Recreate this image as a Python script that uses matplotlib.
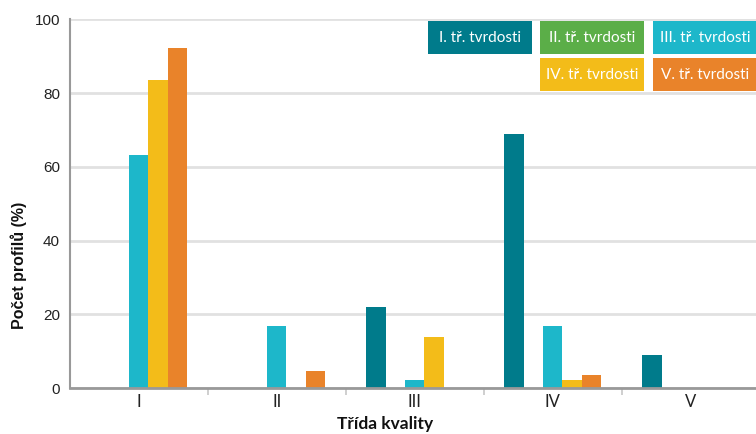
import matplotlib

matplotlib.use("Agg")
import matplotlib.pyplot as plt
import numpy as np
from matplotlib.patches import Rectangle

W, H = 756, 434

categories = ["I", "II", "III", "IV", "V"]
series = ["I. tř. tvrdosti", "II. tř. tvrdosti", "III. tř. tvrdosti", "IV. tř. tvrdosti", "V. tř. tvrdosti"]
hardness_1 = [0.0, 0.0, 22.1, 68.9, 9.0]
hardness_2 = [0.0, 0.0, 0.0, 0.0, 0.0]
hardness_3 = [63.2, 16.7, 2.2, 16.7, 0.0]
hardness_4 = [83.6, 0.0, 13.9, 2.3, 0.0]
hardness_5 = [92.2, 4.7, 0.0, 3.5, 0.0]
values = [hardness_1, hardness_2, hardness_3, hardness_4, hardness_5]
colors = ["#007b8b", "#5bae48", "#1db7ca", "#f3bc19", "#e9832a"]

ARIAL = ["Liberation Sans", "DejaVu Sans"]
LATO = ["Lato", "DejaVu Sans"]

fig = plt.figure(figsize=(W / 100, H / 100), dpi=100)
# axes spans x=-0.5..4.5 from px 69.7 to 759.7 (right edge runs past the figure)
left, right = 69.7 / W, 759.7 / W
bottom, top = (H - 388) / H, (H - 19.3) / H
ax = fig.add_axes([left, bottom, right - left, top - bottom])

x = np.arange(len(categories))
width = 0.14
for i, (vals, color) in enumerate(zip(values, colors)):
    ax.bar(x + (i - 2) * width, vals, width, color=color, zorder=3, label=series[i])

ax.set_xlim(-0.5, 4.5)
ax.set_ylim(0, 100)
ax.set_yticks([0, 20, 40, 60, 80, 100])
ax.set_yticklabels(["0", "20", "40", "60", "80", "100"], family=ARIAL, fontsize=11, color="#222222")
ax.tick_params(axis="y", length=0, pad=7)
ax.yaxis.grid(True, color="#e1e1e1", linewidth=2, zorder=0)

ax.set_xticks(x)
ax.set_xticklabels(categories, family=LATO, fontsize=12, color="#222222")
ax.set_xticks(np.arange(0.5, 4.5, 1.0), minor=True)
ax.tick_params(axis="x", which="major", length=0, pad=4)
ax.tick_params(axis="x", which="minor", length=5, width=1.3, color="#cccccc")

for side in ["top", "right"]:
    ax.spines[side].set_visible(False)
ax.spines["left"].set_color("#999999")
ax.spines["left"].set_linewidth(1.5)
ax.spines["bottom"].set_color("#999999")
ax.spines["bottom"].set_linewidth(2)
ax.spines["bottom"].set_zorder(4)

fig.text(19 / W, 1 - 265 / H, "Počet profilů (%)", rotation=90, ha="center", va="center",
         family=ARIAL, fontsize=11.5, fontweight="bold", color="#111111")
fig.text(385 / W, 2 / H, "Třída kvality", ha="center", va="bottom",
         family=LATO, fontsize=12.5, fontweight="bold", color="#111111")

# legend as colored boxes with white text
boxes = [(428, 21), (540, 21), (653, 21), (540, 58), (653, 58)]
bw, bh = 104, 33
for (bx, by), label, color in zip(boxes, series, colors):
    fig.add_artist(Rectangle((bx / W, 1 - (by + bh) / H), bw / W, bh / H,
                             transform=fig.transFigure, facecolor=color, edgecolor="none", zorder=5))
    fig.text((bx + bw / 2) / W, 1 - (by + bh / 2 + 0.5) / H, label, ha="center", va="center",
             family=LATO, fontsize=11, color="white", zorder=6)

fig.savefig("out.png", dpi=100)
